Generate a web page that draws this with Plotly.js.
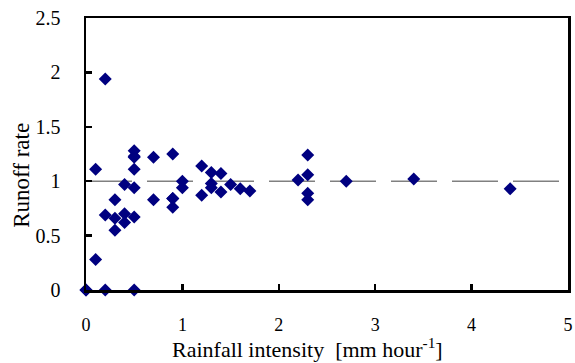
<!DOCTYPE html>
<html>
<head>
<meta charset="utf-8">
<script src="https://cdn.plot.ly/plotly-3.0.1.min.js"></script>
<style>html,body{margin:0;padding:0;background:#fff;}#chart{width:575px;height:363px;}</style>
</head>
<body>
<div id="chart"></div>
<script>
// Rainfall intensity [mm hour^-1]
var intensity = [0, 0, 0.1, 0.1, 0.2, 0.2, 0.2, 0.3, 0.3, 0.3, 0.4, 0.4, 0.4, 0.5, 0.5, 0.5, 0.5, 0.5, 0.5, 0.5, 0.7, 0.7, 0.9, 0.9, 0.9, 0.9, 1.0, 1.0, 1.2, 1.2, 1.3, 1.3, 1.3, 1.4, 1.4, 1.5, 1.6, 1.7, 2.2, 2.3, 2.3, 2.3, 2.3, 2.7, 3.4, 4.4];
// Runoff rate
var runoff = [0, 0, 1.11, 0.28, 1.94, 0.69, 0, 0.83, 0.66, 0.55, 0.97, 0.70, 0.62, 1.28, 1.22, 1.11, 0.94, 0.67, 0, 1.23, 1.22, 0.83, 1.25, 0.84, 0.76, 0.84, 1.00, 0.94, 1.14, 0.87, 1.08, 0.98, 0.94, 1.07, 0.90, 0.97, 0.93, 0.91, 1.01, 1.24, 1.06, 0.89, 0.83, 1.00, 1.02, 0.93];
// Reference line (runoff rate = 1)
var refX = [0, 5];
var refY = [1, 1];
var xTicks = [0, 1, 2, 3, 4, 5];
var yTicks = [0, 0.5, 1, 1.5, 2, 2.5];
var xTitle = 'Rainfall intensity  [mm hour<sup>-1</sup>]';
var yTitle = 'Runoff rate';

var font = "Liberation Serif";
var traces = [
  {x: refX, y: refY, mode: 'lines', type: 'scatter', hoverinfo: 'skip',
   line: {color: '#808080', width: 1.5, dash: '46px,15px'}, showlegend: false},
  {x: intensity, y: runoff, mode: 'markers', type: 'scatter', cliponaxis: false,
   marker: {symbol: 'diamond', size: 10, color: '#000080'}, showlegend: false}
];
var axisBase = {
  showgrid: false, zeroline: false, showline: true, linecolor: '#000', linewidth: 2.5,
  mirror: true, ticks: 'inside', ticklen: 6, tickwidth: 2.5, tickcolor: '#000'
};
var layout = {
  width: 575, height: 363,
  margin: {l: 86, r: 7, t: 18, b: 73},
  paper_bgcolor: '#fff', plot_bgcolor: '#fff',
  font: {family: font, color: '#000'},
  xaxis: Object.assign({}, axisBase, {
    range: [0, 5], tickvals: xTicks, ticktext: xTicks.map(String), ticklabelstandoff: 17,
    tickfont: {family: font, size: 18, color: '#000'}
  }),
  yaxis: Object.assign({}, axisBase, {
    range: [0, 2.5], tickvals: yTicks, ticktext: yTicks.map(String), ticklabelstandoff: 19,
    tickfont: {family: font, size: 20, color: '#000'}
  }),
  annotations: [
    {text: xTitle, xref: 'paper', yref: 'paper', x: 0.46, y: -0.212, xanchor: 'center', yanchor: 'middle',
     showarrow: false, font: {family: font, size: 22, color: '#000'}},
    {text: yTitle, xref: 'paper', yref: 'paper', x: -0.133, y: 0.423, xanchor: 'center', yanchor: 'middle',
     textangle: -90, showarrow: false, font: {family: font, size: 23, color: '#000'}}
  ]
};
Plotly.newPlot('chart', traces, layout, {staticPlot: true, displayModeBar: false});
</script>
</body>
</html>
